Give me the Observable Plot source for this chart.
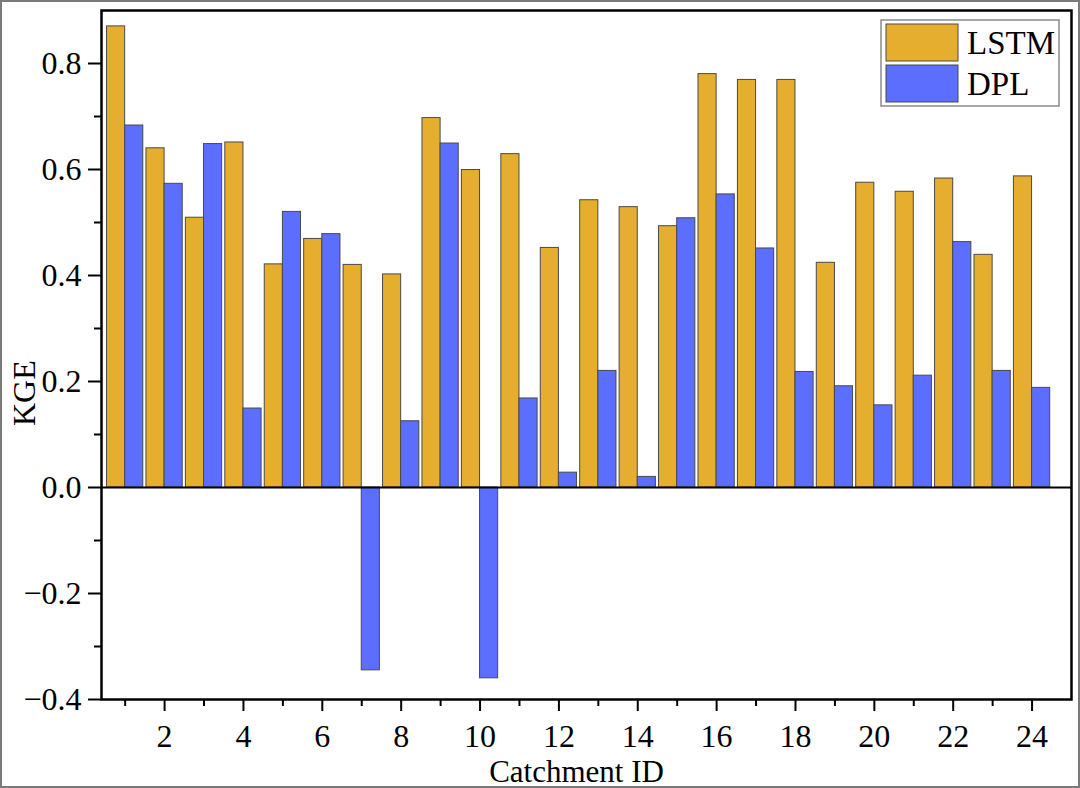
<!DOCTYPE html>
<html>
<head>
<meta charset="utf-8">
<script src="https://cdn.jsdelivr.net/npm/d3@7"></script>
<script src="https://cdn.jsdelivr.net/npm/@observablehq/plot@0.6"></script>
<style>
  body { margin: 0; background: #fff; }
  #wrap { position: relative; width: 1080px; height: 788px; overflow: hidden; }
  #border { position: absolute; left: 0; top: 0; width: 1080px; height: 788px; box-sizing: border-box; border: 2px solid #7a7a7a; pointer-events: none; }
  #legend { position: absolute; left: 0; top: 0; pointer-events: none; }
</style>
</head>
<body>
<div id="wrap"></div>
<script>
// ---- data ----
const catchments = [1,2,3,4,5,6,7,8,9,10,11,12,13,14,15,16,17,18,19,20,21,22,23,24];
const lstmKGE = [0.870,0.640,0.509,0.651,0.421,0.469,0.420,0.402,0.697,0.599,0.629,0.452,
                 0.542,0.529,0.493,0.780,0.769,0.769,0.424,0.575,0.558,0.583,0.439,0.587];
const dplKGE  = [0.683,0.573,0.648,0.149,0.520,0.478,-0.345,0.125,0.649,-0.360,0.168,0.028,
                 0.220,0.020,0.508,0.553,0.451,0.218,0.191,0.155,0.211,0.463,0.220,0.188];
const seriesNames = ["LSTM", "DPL"];
const seriesColors = ["#E6AE2E", "#5B6EFD"];
const yMajorTicks = [-0.4,-0.2,0.0,0.2,0.4,0.6,0.8];
const yMinorTicks = [-0.3,-0.1,0.1,0.3,0.5,0.7];
const xMajorTicks = [2,4,6,8,10,12,14,16,18,20,22,24];
const xMinorTicks = [1,3,5,7,9,11,13,15,17,19,21,23];
const xTitle = "Catchment ID";
const yTitle = "KGE";

// ---- table ----
const rows = catchments.flatMap((id, i) => [
  {id, model: seriesNames[0], kge: lstmKGE[i]},
  {id, model: seriesNames[1], kge: dplKGE[i]}
]);

const barW = 0.46;
const font = "Liberation Serif, Times New Roman, serif";

const chart = Plot.plot({
  width: 1080,
  height: 788,
  marginLeft: 101,
  marginRight: 9,
  marginTop: 10,
  marginBottom: 89,
  style: {fontFamily: font, fontSize: "32px", color: "black", background: "white"},
  x: {type: "linear", domain: [0.4, 25], axis: null},
  y: {domain: [-0.4, 0.9], axis: null},
  color: {domain: seriesNames, range: seriesColors},
  marks: [
    Plot.rectY(rows, {
      x1: d => d.model === seriesNames[0] ? d.id - barW : d.id,
      x2: d => d.model === seriesNames[0] ? d.id : d.id + barW,
      y1: 0,
      y2: "kge",
      fill: "model",
      stroke: "#4a4a4a",
      strokeWidth: 1,
      inset: 0
    }),
    Plot.ruleY([0], {stroke: "black", strokeWidth: 2}),
    Plot.axisY({ticks: yMajorTicks, tickSize: 13, tickPadding: 7, tickFormat: d3.format(".1f"), strokeWidth: 2, fontSize: 32, label: null}),
    Plot.axisY({ticks: yMinorTicks, tickSize: 7, text: null, strokeWidth: 2, label: null}),
    Plot.axisX({ticks: xMajorTicks, tickSize: 12, tickPadding: 13, tickFormat: d3.format("d"), strokeWidth: 2, fontSize: 32, label: null}),
    Plot.axisX({ticks: xMinorTicks, tickSize: 7, text: null, strokeWidth: 2, label: null}),
    Plot.frame({stroke: "black", strokeWidth: 2.5}),
    Plot.text([xTitle], {text: d => d, frameAnchor: "bottom", dx: -10, dy: 73, lineAnchor: "middle", fontSize: 31}),
    Plot.text([yTitle], {text: d => d, frameAnchor: "left", dx: -77, dy: 71, rotate: -90, lineAnchor: "middle", fontSize: 32})
  ]
});

const wrap = document.getElementById("wrap");
wrap.appendChild(chart);

// ---- legend overlay ----
const leg = d3.select(wrap).append("svg")
  .attr("id", "legend")
  .attr("width", 1080).attr("height", 788);
const lg = leg.append("g").attr("transform", "translate(881,20)");
lg.append("rect").attr("x", 0).attr("y", 0).attr("width", 178).attr("height", 86)
  .attr("fill", "white").attr("stroke", "#8a8a8a").attr("stroke-width", 1.5);
const item = lg.selectAll("g.item").data(seriesNames).join("g")
  .attr("class", "item")
  .attr("transform", (d, i) => `translate(5,${4 + i * 41})`);
item.append("rect").attr("width", 72).attr("height", 37)
  .attr("fill", (d, i) => seriesColors[i]).attr("stroke", "#4a4a4a").attr("stroke-width", 1);
item.append("text").attr("x", 81).attr("y", 30)
  .attr("font-family", font).attr("font-size", 33).attr("fill", "black")
  .text(d => d);

d3.select(wrap).append("div").attr("id", "border");
</script>
</body>
</html>
